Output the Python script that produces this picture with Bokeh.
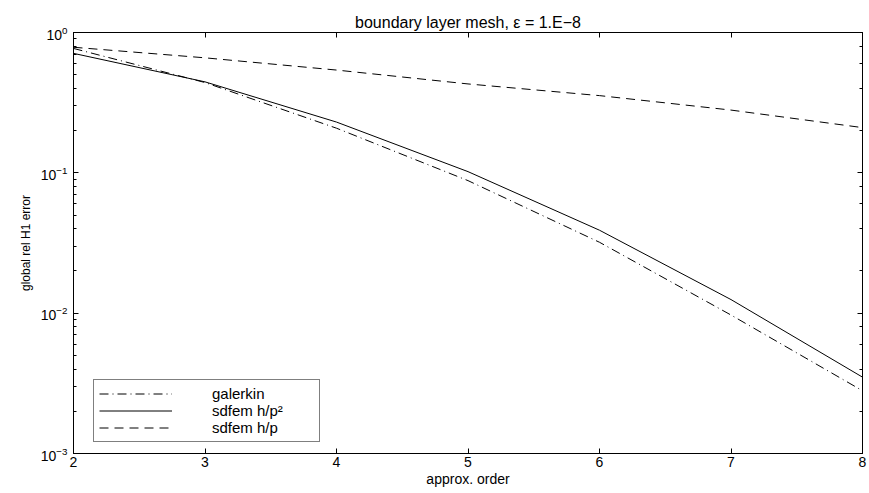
from bokeh.plotting import figure
from bokeh.models import LogAxis, LinearAxis, Legend, LegendItem, FixedTicker, Range1d
from bokeh.embed import file_html
from bokeh.resources import INLINE

# data
orders = [2, 3, 4, 5, 6, 7, 8]
galerkin = [0.77, 0.44, 0.208, 0.088, 0.032, 0.0097, 0.0028]
sdfem_hp2 = [0.71, 0.445, 0.230, 0.102, 0.039, 0.0125, 0.0035]
sdfem_hp = [0.785, 0.66, 0.54, 0.43, 0.355, 0.28, 0.21]
x_ticks = [2, 3, 4, 5, 6, 7, 8]

title_text = "boundary layer mesh, \u03b5 = 1.E\u22128"
x_label = "approx. order"
y_label = "global rel H1 error"
names = ["galerkin", "sdfem h/p\u00b2", "sdfem h/p"]

FONT = "Liberation Sans"

p = figure(width=869, height=493, y_axis_type="log", output_backend="svg",
           toolbar_location=None, x_range=Range1d(2, 8), y_range=Range1d(1e-3, 1),
           min_border_left=73, min_border_right=7, min_border_top=32, min_border_bottom=40,
           title=title_text)
p.frame_width = 789
p.frame_height = 421
p.background_fill_color = "white"
p.border_fill_color = "white"
p.outline_line_color = "black"
p.outline_line_width = 1
p.grid.visible = False

p.title.align = "center"
p.title.text_font = FONT
p.title.text_font_size = "16px"
p.title.text_font_style = "normal"
p.title.text_color = "black"
p.title.standoff = 4

r1 = p.line(orders, galerkin, line_color="black", line_width=1, line_dash="9 4 1 4")
r2 = p.line(orders, sdfem_hp2, line_color="black", line_width=1)
r3 = p.line(orders, sdfem_hp, line_color="black", line_width=1, line_dash="9 6")

def style_axis(ax, labels=True):
    ax.axis_line_color = "black"
    ax.major_tick_in = 5
    ax.major_tick_out = 0
    ax.minor_tick_in = 3
    ax.minor_tick_out = 0
    ax.major_tick_line_color = "black"
    ax.minor_tick_line_color = "black"
    ax.major_label_text_font = FONT
    ax.major_label_text_color = "black"
    ax.axis_label_text_font = FONT
    ax.axis_label_text_font_style = "normal"
    ax.axis_label_text_color = "black"
    if labels:
        ax.major_label_text_font_size = "14px"
    else:
        ax.major_label_text_font_size = "1px"
        ax.major_label_text_alpha = 0
        ax.major_label_standoff = 0

xa = p.xaxis[0]
xa.ticker = FixedTicker(ticks=x_ticks)
xa.axis_label = x_label
xa.axis_label_text_font_size = "14px"
style_axis(xa)
xa.minor_tick_in = 0
xa.major_label_standoff = 3
xa.axis_label_standoff = 1

ya = p.yaxis[0]
ya.axis_label = y_label
ya.axis_label_text_font_size = "12px"
style_axis(ya)
ya.major_label_standoff = 6
ya.axis_label_standoff = 5

top = LinearAxis(ticker=FixedTicker(ticks=x_ticks))
style_axis(top, labels=False)
top.minor_tick_in = 0
p.add_layout(top, "above")

right = LogAxis()
style_axis(right, labels=False)
p.add_layout(right, "right")

legend = Legend(items=[LegendItem(label=names[0], renderers=[r1]),
                       LegendItem(label=names[1], renderers=[r2]),
                       LegendItem(label=names[2], renderers=[r3])],
                location=(20, 11))
legend.border_line_color = "black"
legend.border_line_width = 1
legend.background_fill_color = "white"
legend.background_fill_alpha = 1
legend.label_text_font = FONT
legend.label_text_font_size = "15px"
legend.label_text_color = "black"
legend.glyph_width = 73
legend.glyph_height = 13
legend.label_height = 13
legend.label_width = 102
legend.label_standoff = 40
legend.spacing = 0
legend.padding = 5
legend.margin = 0
p.add_layout(legend, "center")

open("out.html", "w").write(file_html(p, INLINE))
